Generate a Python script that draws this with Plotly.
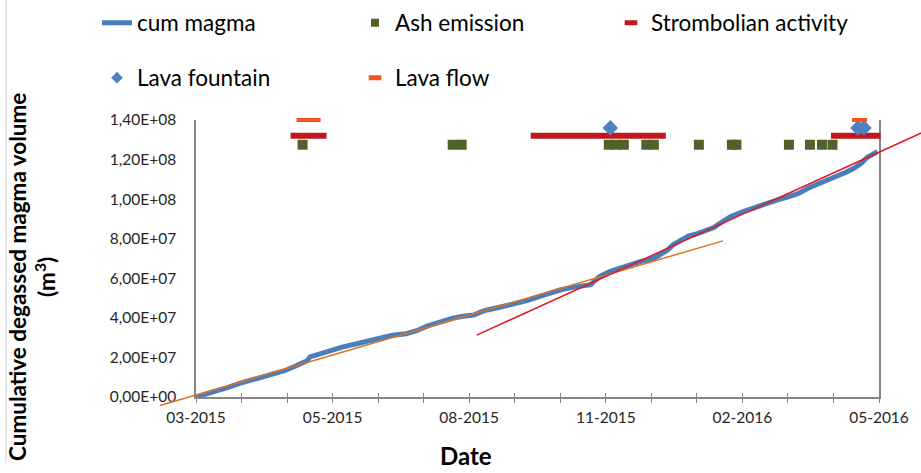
import plotly.graph_objects as go
import pandas as pd

# ---------------- data ----------------
START_DATE = "2015-03-01"          # first day of the x axis
END_DATE = "2016-05-29"            # last day of the x axis

# cumulative degassed magma volume: days since START_DATE, million m3
cum_days = [0, 8, 15, 22, 29, 36, 44, 52, 59, 66, 71, 74, 76, 82, 89, 98, 107,
            116, 123, 131, 140, 147, 154, 162, 171, 178, 185, 190, 194, 203,
            212, 220, 229, 236, 243, 250, 257, 263, 266, 269, 276, 283, 290,
            296, 302, 307, 311, 314, 318, 323, 328, 334, 340, 345, 349, 356,
            364, 372, 380, 387, 394, 401, 408, 414, 421, 427, 433, 438, 443,
            447, 451, 454]
cum_vals = [0.0, 1.6, 3.2, 5.0, 6.9, 8.3, 9.8, 11.6, 13.3, 15.5, 17.0, 18.3,
            20.3, 21.8, 23.7, 25.3, 26.9, 28.4, 30.0, 31.2, 32.0, 33.5, 35.8,
            37.8, 39.8, 40.8, 41.4, 43.0, 44.0, 45.5, 47.0, 48.6, 50.8, 52.8,
            54.2, 55.3, 56.2, 56.8, 59.0, 61.0, 63.5, 65.3, 67.0, 68.4, 69.5,
            70.9, 72.8, 74.2, 77.0, 79.3, 81.3, 82.6, 84.0, 85.6, 87.8, 91.1,
            93.6, 95.8, 97.8, 99.5, 101.0, 102.8, 105.6, 107.4, 109.6, 111.7,
            113.6, 115.5, 118.0, 121.0, 123.0, 124.0]

# linear trends (end points): days since START_DATE, million m3
trend1_days = [-24, 351]
trend1_vals = [-4.3, 78.9]
trend2_days = [187, 484]
trend2_vals = [31.3, 133.7]

# eruptive activity markers (days since START_DATE)
ash_days = [71, 171, 177, 275, 280, 285, 300, 305, 335, 357, 360, 395, 409,
            417, 424]
ash_level = 1.275e8
strombolian_start = [63, 223, 423]
strombolian_end = [87, 313, 456]
strombolian_level = 1.32e8
fountain_days = [276, 441, 445]
fountain_level = 1.36e8
flow_start = [67, 437]
flow_end = [83, 447]
flow_level = 1.40e8

y_tickvals = [0, 2e7, 4e7, 6e7, 8e7, 1e8, 1.2e8, 1.4e8]
y_ticktext = ["0,00E+00", "2,00E+07", "4,00E+07", "6,00E+07", "8,00E+07",
              "1,00E+08", "1,20E+08", "1,40E+08"]

# ---------------- helpers ----------------
t0 = pd.Timestamp(START_DATE)
t1 = pd.Timestamp(END_DATE)


def to_dates(days):
    return [t0 + pd.Timedelta(days=d) for d in days]


def segments(starts, ends, level):
    xs, ys = [], []
    for s, e in zip(starts, ends):
        xs += [t0 + pd.Timedelta(days=s), t0 + pd.Timedelta(days=e), None]
        ys += [level, level, None]
    return xs, ys


# ---------------- geometry ----------------
W, H = 921, 473
ML, MR, MT, MB = 150, 0, 100, 60
PW, PH = W - ML - MR, H - MT - MB
PL, PR, PT, PB = 196, 879, 120, 397          # plot area in pixels
xdom = [(PL - ML) / PW, (PR - ML) / PW]
ydom = [(H - MB - PB) / PH, (H - MB - PT) / PH]
span_days = (t1 - t0).days
dpp = span_days / (PR - PL)
x2_range = [t0 - pd.Timedelta(days=(PL - ML) * dpp),
            t1 + pd.Timedelta(days=(W - MR - PR) * dpp)]
vpp = 1.4e8 / (PB - PT)
y2_range = [-(H - MB - PB) * vpp, 1.4e8 + (PT - MT) * vpp]


def px_x(px):
    return (px - ML) / PW


def px_y(py):
    return (H - MB - py) / PH


FONT = "Lato"
DAY_MS = 86400000
MAJOR = 91 * DAY_MS
MINOR = MAJOR / 3

C_MAGMA = "#4A7EBB"
C_ASH = "#4F6228"
C_STROM = "#C0161E"
C_FOUNT = "#4F81BD"
C_FLOW = "#F4511E"

fig = go.Figure()

# cumulative magma curve (main axes)
fig.add_trace(go.Scatter(
    x=to_dates(cum_days), y=[v * 1e6 for v in cum_vals], mode="lines",
    name="cum magma", line=dict(color=C_MAGMA, width=5),
    xaxis="x", yaxis="y", legend="legend"))

# trend lines (overlay axes so they may run past the plot frame)
fig.add_trace(go.Scatter(
    x=to_dates(trend1_days), y=[v * 1e6 for v in trend1_vals], mode="lines",
    line=dict(color="#E07020", width=1.5), showlegend=False,
    xaxis="x2", yaxis="y2", hoverinfo="skip"))
fig.add_trace(go.Scatter(
    x=to_dates(trend2_days), y=[v * 1e6 for v in trend2_vals], mode="lines",
    line=dict(color="#E8161B", width=1.5), showlegend=False,
    xaxis="x2", yaxis="y2", hoverinfo="skip"))

# ash emission
fig.add_trace(go.Scatter(
    x=to_dates(ash_days), y=[ash_level] * len(ash_days), mode="markers",
    name="Ash emission", showlegend=False,
    marker=dict(symbol="square", size=10, color=C_ASH),
    xaxis="x2", yaxis="y2"))
fig.add_trace(go.Scatter(
    x=[None], y=[None], mode="markers", name="Ash emission",
    marker=dict(symbol="square", size=8, color=C_ASH),
    xaxis="x2", yaxis="y2", legend="legend2"))

# strombolian activity
sx, sy = segments(strombolian_start, strombolian_end, strombolian_level)
fig.add_trace(go.Scatter(
    x=sx, y=sy, mode="lines", line=dict(color=C_STROM, width=6),
    showlegend=False, xaxis="x2", yaxis="y2"))
fig.add_trace(go.Scatter(
    x=[None], y=[None], mode="markers", name="Strombolian activity",
    marker=dict(symbol="line-ew", size=9,
                line=dict(color=C_STROM, width=5)),
    xaxis="x2", yaxis="y2", legend="legend3"))

# lava fountain
fig.add_trace(go.Scatter(
    x=to_dates(fountain_days), y=[fountain_level] * len(fountain_days),
    mode="markers", name="Lava fountain", showlegend=False,
    marker=dict(symbol="diamond", size=12, color=C_FOUNT),
    xaxis="x2", yaxis="y2"))
fig.add_trace(go.Scatter(
    x=[None], y=[None], mode="markers", name="Lava fountain",
    marker=dict(symbol="diamond", size=9, color=C_FOUNT),
    xaxis="x2", yaxis="y2", legend="legend4"))

# lava flow
fx, fy = segments(flow_start, flow_end, flow_level)
fig.add_trace(go.Scatter(
    x=fx, y=fy, mode="lines", line=dict(color=C_FLOW, width=4),
    showlegend=False, xaxis="x2", yaxis="y2"))
fig.add_trace(go.Scatter(
    x=[None], y=[None], mode="markers", name="Lava flow",
    marker=dict(symbol="line-ew", size=9,
                line=dict(color=C_FLOW, width=5)),
    xaxis="x2", yaxis="y2", legend="legend5"))

# helper trace for the tick-label / inner-tick axis
fig.add_trace(go.Scatter(x=[None], y=[None], xaxis="x3", yaxis="y",
                         showlegend=False))

AX = "#868686"
tickfont = dict(family=FONT, size=15.5, color="#262626")
legfont = dict(family=FONT, size=22.5, color="#000000")


def leg(xpx, ypx):
    return dict(orientation="h", xref="container", yref="container",
                x=xpx / W, y=1 - ypx / H, xanchor="left", yanchor="middle",
                font=legfont, bgcolor="rgba(0,0,0,0)", borderwidth=0)


fig.update_layout(
    width=W, height=H,
    margin=dict(l=ML, r=MR, t=MT, b=MB, pad=0, autoexpand=False),
    paper_bgcolor="white", plot_bgcolor="rgba(0,0,0,0)",
    showlegend=True,
    xaxis=dict(
        type="date", domain=xdom, anchor="y", range=[t0, t1],
        tick0=t0, dtick=MAJOR, automargin=False,
        ticks="outside", ticklen=4, tickwidth=1.3, tickcolor=AX,
        minor=dict(ticks="outside", dtick=MINOR, tick0=t0, ticklen=4,
                   tickwidth=1.3, tickcolor=AX, showgrid=False),
        showticklabels=False,
        showline=True, linecolor=AX, linewidth=1.5,
        showgrid=False, zeroline=False),
    xaxis3=dict(
        type="date", overlaying="x", anchor="y", range=[t0, t1],
        tick0=t0, dtick=MAJOR, tickformat="%m-%Y", automargin=False,
        ticks="inside", ticklen=4, tickwidth=1.3, tickcolor=AX,
        minor=dict(ticks="inside", dtick=MINOR, tick0=t0, ticklen=4,
                   tickwidth=1.3, tickcolor=AX, showgrid=False),
        showticklabels=True, tickfont=tickfont, ticklabelstandoff=9,
        showline=False, showgrid=False, zeroline=False),
    yaxis=dict(
        domain=ydom, anchor="x", range=[0, 1.4e8], automargin=False,
        tickmode="array", tickvals=y_tickvals, ticktext=y_ticktext,
        ticks="", showline=True, mirror=True, linecolor=AX, linewidth=1.5,
        showgrid=False, zeroline=False, tickfont=tickfont,
        ticklabelstandoff=15),
    xaxis2=dict(type="date", domain=[0, 1], anchor="y2", range=x2_range,
                visible=False, showgrid=False, zeroline=False,
                automargin=False),
    yaxis2=dict(domain=[0, 1], anchor="x2", range=y2_range,
                visible=False, showgrid=False, zeroline=False,
                automargin=False),
    legend=leg(97, 23),
    legend2=leg(355, 23),
    legend3=leg(611, 23),
    legend4=leg(97, 78),
    legend5=leg(355, 78),
    annotations=[
        dict(text="Cumulative degassed magma volume<br>(m<sup>3</sup>)",
             textangle=-90, xref="paper", yref="paper",
             x=px_x(32), y=px_y(277),
             xanchor="center", yanchor="middle", showarrow=False,
             font=dict(family=FONT, size=22.5, color="#000000",
                       weight="bold")),
        dict(text="<b>Date</b>", xref="paper", yref="paper",
             x=px_x(466), y=px_y(455),
             xanchor="center", yanchor="middle", showarrow=False,
             font=dict(family=FONT, size=24, color="#000000")),
    ],
    shapes=[dict(type="line", xref="paper", yref="paper",
                 x0=px_x(6), x1=px_x(6), y0=px_y(0), y1=px_y(463),
                 line=dict(color="#D0D0D0", width=1))],
)

fig.write_html(
    "out.html",
    config={"displayModeBar": False},
    post_script="document.body.style.margin='0';"
                "document.body.style.overflow='hidden';")
